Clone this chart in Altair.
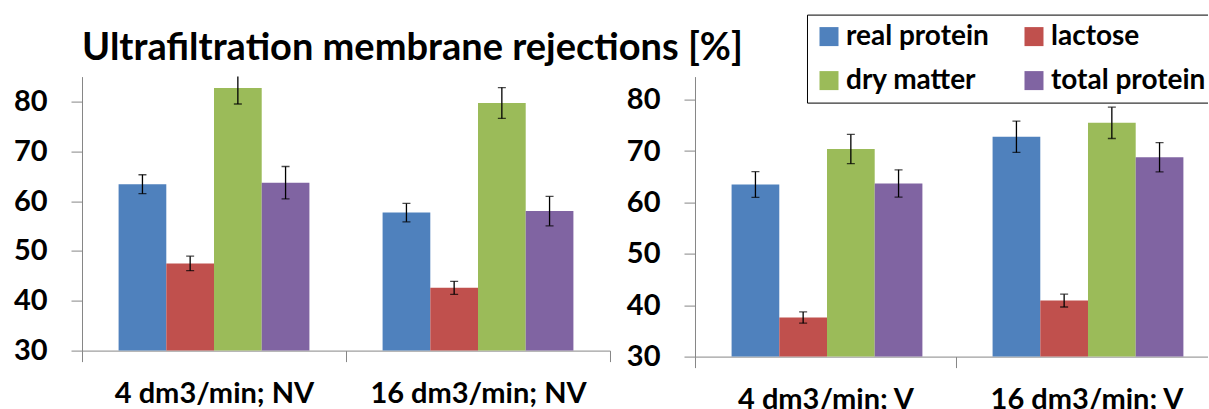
import altair as alt
import pandas as pd

# ---------------- data ----------------
series = ["real protein", "lactose", "dry matter", "total protein"]
colors = ["#4F81BD", "#C0504D", "#9BBB59", "#8064A2"]

left_categories = ["4 dm3/min; NV", "16 dm3/min; NV"]
left_real = [63.4, 57.7]
left_lactose = [47.5, 42.6]
left_dry = [82.7, 79.7]
left_total = [63.7, 58.0]
left_err_real = [1.9, 1.85]
left_err_lactose = [1.45, 1.3]
left_err_dry = [3.2, 3.1]
left_err_total = [3.25, 2.95]

right_categories = ["4 dm3/min; V", "16 dm3/min; V"]
right_real = [63.5, 72.8]
right_lactose = [37.6, 40.9]
right_dry = [70.4, 75.5]
right_total = [63.7, 68.8]
right_err_real = [2.5, 3.05]
right_err_lactose = [1.1, 1.25]
right_err_dry = [2.85, 3.05]
right_err_total = [2.65, 2.85]

y_ticks = [30, 40, 50, 60, 70, 80]

title_text = "Ultrafiltration membrane rejections [%]"
FONT = "Lato"


def table(categories, vals, errs):
    rows = []
    for s, v_list, e_list in zip(series, vals, errs):
        for c, v, e in zip(categories, v_list, e_list):
            rows.append({"category": c, "series": s, "value": v, "err": e})
    return pd.DataFrame(rows)


left_df = table(left_categories,
                [left_real, left_lactose, left_dry, left_total],
                [left_err_real, left_err_lactose, left_err_dry, left_err_total])
right_df = table(right_categories,
                 [right_real, right_lactose, right_dry, right_total],
                 [right_err_real, right_err_lactose, right_err_dry, right_err_total])

legend = alt.Legend(
    title=None, orient="none", legendX=725, legendY=-62, columns=2,
    direction="horizontal",
    symbolType="square", symbolSize=361, symbolStrokeWidth=0,
    labelFontSize=28, labelFont=FONT, labelFontWeight="bold", labelColor="black",
    labelOffset=3, rowPadding=16, columnPadding=31, padding=8,
    strokeColor="black", fillColor="white", labelLimit=400,
)


def panel(df, categories, ymax, width, height, outer_pad, title=None):
    yscale = alt.Scale(domain=[30, ymax], nice=False, zero=False)
    base = alt.Chart(df).encode(
        x=alt.X("category:N", sort=categories, title=None,
                scale=alt.Scale(paddingInner=0, paddingOuter=0),
                axis=alt.Axis(tickBand="extent", labelAngle=0, labelLimit=400)),
        xOffset=alt.XOffset("series:N", sort=series,
                            scale=alt.Scale(paddingInner=0, paddingOuter=outer_pad)),
    )
    bars = base.mark_bar(clip=True).encode(
        y=alt.Y("value:Q", scale=yscale, title=None,
                axis=alt.Axis(values=y_ticks, labelFlush=False)),
        color=alt.Color("series:N", sort=series,
                        scale=alt.Scale(domain=series, range=colors), legend=legend),
    )
    rules = base.mark_rule(color="black", strokeWidth=1.3, clip=True).encode(
        y=alt.Y("lo:Q", scale=yscale, title=None), y2="hi:Q")
    cap_lo = base.mark_tick(color="black", size=8, thickness=1.3, clip=True).encode(
        y=alt.Y("lo:Q", scale=yscale, title=None))
    cap_hi = base.mark_tick(color="black", size=8, thickness=1.3, clip=True).encode(
        y=alt.Y("hi:Q", scale=yscale, title=None))
    props = dict(width=width, height=height)
    if title is not None:
        props["title"] = alt.TitleParams(
            text=title, anchor="start", frame="group", fontSize=38, font=FONT,
            fontWeight="bold", color="black", offset=-21, baseline="alphabetic")
    return alt.layer(bars, rules, cap_lo, cap_hi).transform_calculate(
        lo="datum.value - datum.err", hi="datum.value + datum.err"
    ).properties(**props)


left = panel(left_df, left_categories, 85, 528, 274, 0.767, title=title_text)
right = panel(right_df, right_categories, 84.5, 522, 280, 0.753)

chart = alt.hconcat(left, right, spacing=85, bounds="flush").resolve_scale(
    x="independent", y="independent", color="shared"
).properties(
    padding={"left": 13, "top": 13.6, "right": -10, "bottom": -5},
    background="white",
).configure_view(strokeWidth=0).configure_axis(
    domainColor="#868686", tickColor="#868686", domainWidth=1, tickWidth=1,
    tickSize=11, labelFont=FONT, labelFontWeight="bold", labelColor="black",
    grid=False,
).configure_axisX(
    labelFontSize=29, labelPadding=18,
).configure_axisY(
    labelFontSize=29, labelPadding=24,
)

chart.save("out.html", embed_options={"renderer": "svg", "actions": False})
